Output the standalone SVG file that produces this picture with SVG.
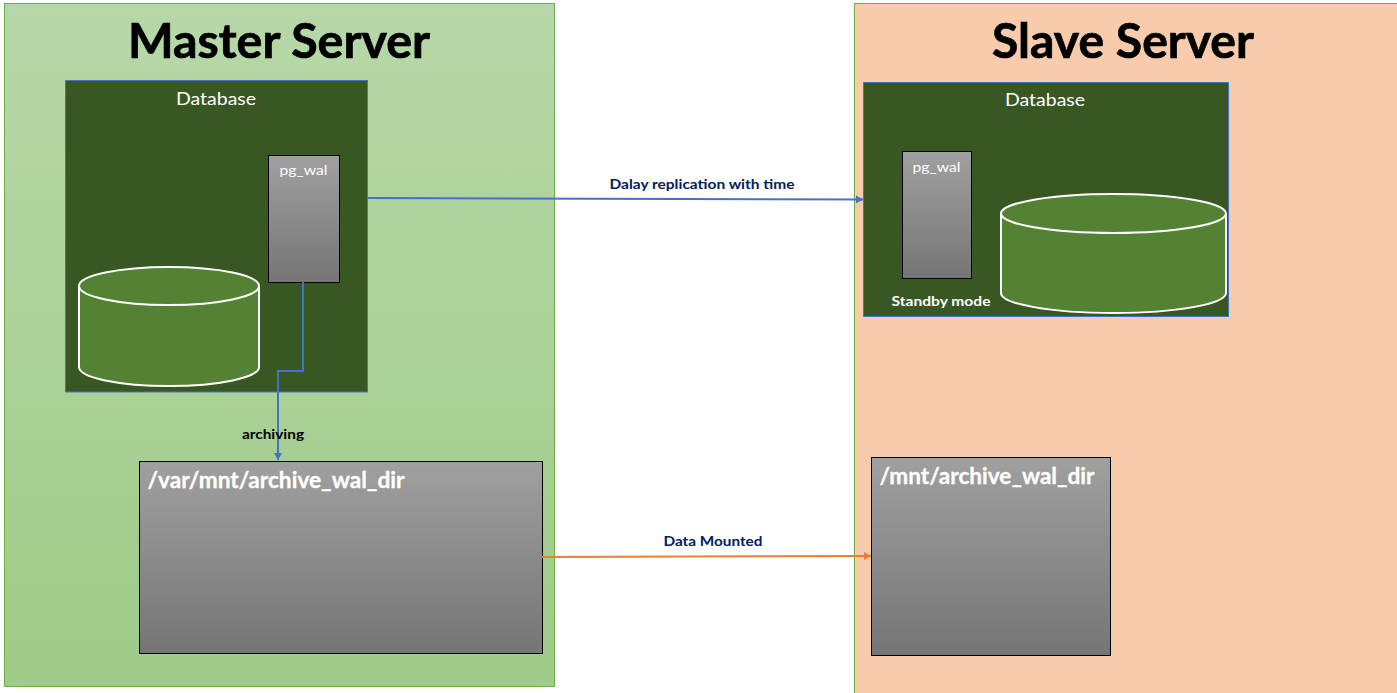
<svg xmlns="http://www.w3.org/2000/svg" width="1397" height="693" viewBox="0 0 1397 693">
<style>
text{font-family:"Lato","Liberation Sans",sans-serif}
.h{font-size:48px;font-weight:700;fill:#000;stroke:#000;stroke-width:.7px}
.w{fill:#fff;font-size:18px}
.p{fill:#fff;font-size:14px}
.a{fill:#fff;font-size:22px;font-weight:700;stroke:#fff;stroke-width:.3px}
.l{font-size:13px;font-weight:700;fill:#002060}
.db{fill:#385723;stroke:#4472c4;stroke-width:1}
.box{fill:url(#g);stroke:#000;stroke-width:1}
.cy{fill:#548235;stroke:#fff;stroke-width:2}
.c{fill:none;stroke-width:2}
</style>
<defs>
<linearGradient id="g" x1="0" y1="0" x2="0" y2="1"><stop offset="0" stop-color="#a0a0a0"/><stop offset="1" stop-color="#757575"/></linearGradient>
<linearGradient id="m" x1="0" y1="0" x2="0" y2="1"><stop offset="0" stop-color="#b7d7a8"/><stop offset="1" stop-color="#9fcb88"/></linearGradient>
<marker id="ab" markerUnits="userSpaceOnUse" markerWidth="8" markerHeight="8" refX="7" refY="4" orient="auto"><path d="M0 0L7 4L0 8z" fill="#4472c4"/></marker>
<marker id="ao" markerUnits="userSpaceOnUse" markerWidth="8" markerHeight="8" refX="7" refY="4" orient="auto"><path d="M0 0L7 4L0 8z" fill="#ed7d31"/></marker>
</defs>
<g id="master">
<rect x="4.5" y="3.5" width="550" height="683" fill="url(#m)" stroke="#70ad47"/>
<text class="h" x="279" y="58" text-anchor="middle" textLength="302" lengthAdjust="spacingAndGlyphs">Master Server</text>
</g>
<g id="slave">
<rect x="854.5" y="3.5" width="560" height="700" fill="#f8cbad" stroke="#70ad47"/>
<text class="h" x="1123" y="58" text-anchor="middle" textLength="262" lengthAdjust="spacingAndGlyphs">Slave Server</text>
</g>
<g id="master-db">
<rect class="db" x="65.5" y="80.5" width="302" height="311.5"/>
<text class="w" x="216" y="105" text-anchor="middle" textLength="80" lengthAdjust="spacingAndGlyphs">Database</text>
</g>
<g id="master-pg-wal">
<rect class="box" x="268.5" y="155.5" width="71" height="127"/>
<text class="p" x="303.500" y="175" text-anchor="middle" textLength="48" lengthAdjust="spacingAndGlyphs">pg_wal</text>
</g>
<g id="master-cylinder">
<path class="cy" d="M79 286V367C79 377.500 119 386 169 386S259 377.500 259 367V286"/>
<ellipse class="cy" cx="169" cy="286" rx="90" ry="19"/>
</g>
<g id="slave-db">
<rect class="db" x="863.5" y="82.500" width="365" height="234"/>
<text class="w" x="1045" y="106" text-anchor="middle" textLength="80" lengthAdjust="spacingAndGlyphs">Database</text>
<text x="941" y="306" text-anchor="middle" font-size="13" font-weight="700" fill="#fff" textLength="99" lengthAdjust="spacingAndGlyphs">Standby mode</text>
</g>
<g id="slave-pg-wal">
<rect class="box" x="902.500" y="151.500" width="69" height="127"/>
<text class="p" x="936.500" y="172" text-anchor="middle" textLength="48" lengthAdjust="spacingAndGlyphs">pg_wal</text>
</g>
<g id="slave-cylinder">
<path class="cy" d="M1001 213.500V293C1001 304 1051 313 1113.500 313S1226 304 1226 293V213.500"/>
<ellipse class="cy" cx="1113.500" cy="213.500" rx="112.500" ry="19.500"/>
</g>
<g id="master-archive">
<rect class="box" x="139.500" y="461.500" width="403" height="192"/>
<text class="a" x="147.500" y="487.500" textLength="257" lengthAdjust="spacingAndGlyphs">/var/mnt/archive_wal_dir</text>
</g>
<g id="slave-archive">
<rect class="box" x="871.500" y="457.500" width="239" height="198"/>
<text class="a" x="879.500" y="483.500" textLength="215" lengthAdjust="spacingAndGlyphs">/mnt/archive_wal_dir</text>
</g>
<g id="connectors">
<path class="c" stroke="#4472c4" d="M368 198L863 199.500" marker-end="url(#ab)"/>
<path class="c" stroke="#4472c4" d="M303 282V371H278V460" marker-end="url(#ab)"/>
<path class="c" stroke="#ed7d31" d="M542 557L871 556" marker-end="url(#ao)"/>
</g>
<g id="labels">
<text class="l" x="702" y="189" text-anchor="middle" textLength="185" lengthAdjust="spacingAndGlyphs">Dalay replication with time</text>
<text class="l" x="713" y="546" text-anchor="middle" textLength="99" lengthAdjust="spacingAndGlyphs">Data Mounted</text>
<text x="273" y="439" text-anchor="middle" font-size="13" font-weight="700" fill="#000" textLength="62" lengthAdjust="spacingAndGlyphs">archiving</text>
</g>
</svg>
